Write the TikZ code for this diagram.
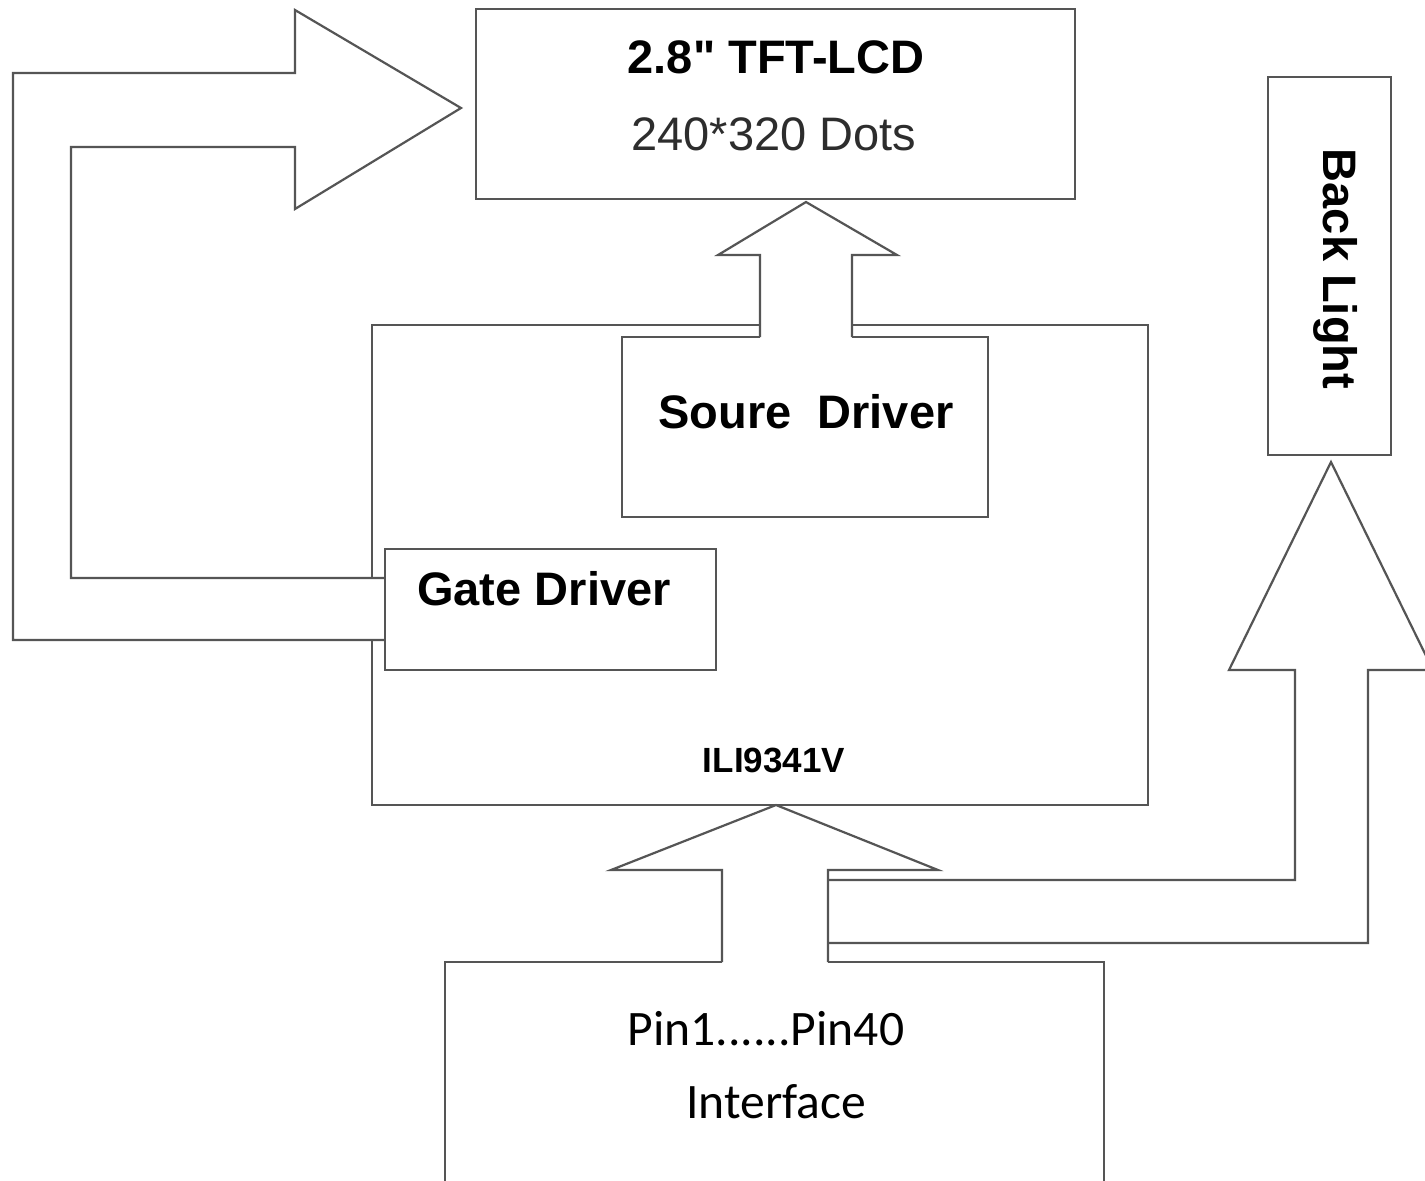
\documentclass[tikz,border=0pt]{standalone}
\usepackage{fontspec}
\setmainfont{Liberation Sans}
\newfontfamily\calfont{Carlito}
\usetikzlibrary{fit}
\definecolor{linec}{RGB}{85,85,85}
\definecolor{txtgray}{RGB}{45,45,45}
\begin{document}
\begin{tikzpicture}[x=0.5pt,y=-0.5pt,
  edge/.style={draw=linec,line width=1.1pt,line join=miter},
  box/.style={edge,inner sep=0pt,outer sep=0pt},
  hidden/.style={inner sep=0pt,outer sep=0pt},
  boldlbl/.style={font=\fontsize{23.5}{28}\selectfont\bfseries,anchor=base,inner sep=0pt},
  reglbl/.style={font=\fontsize{23.5}{28}\selectfont,anchor=base,inner sep=0pt},
  callbl/.style={font=\calfont\fontsize{24.8}{30}\selectfont,anchor=base,inner sep=0pt}]
\useasboundingbox (0,0) rectangle (1425,1180);
\clip (0,0) rectangle (1425,1180);
\fill[white] (0,0) rectangle (1425,1180);

% boxes
\node[box,fit={(476,9) (1075,199)}] (lcd) {};
\node[hidden,fit={(372,325) (1148,805)}] (ili) {};
\node[hidden,fit={(622,337) (988,517)}] (src) {};
\node[box,fit={(385,549) (716,670)}] (gate) {};
\node[box,fit={(1268,77) (1391,455)}] (bl) {};
\node[hidden,fit={(445,962) (1104,1200)}] (intf) {};

% ILI outline with openings
\draw[edge] (ili.west |- 0,578) -- (ili.north west) -- (760,325);
\draw[edge] (852,325) -- (ili.north east) -- (ili.south east) -- (ili.south west) -- (ili.west |- 0,640);
% Source driver outline with opening
\draw[edge] (760,337) -- (src.north west) -- (src.south west) -- (src.south east) -- (src.north east) -- (852,337);
% Interface outline with opening
\draw[edge] (722,962) -- (intf.north west) -- (intf.south west);
\draw[edge] (828,962) -- (intf.north east) -- (intf.south east);

% block arrows
\coordinate (gtip) at (461,108);
\coordinate (stip) at (806,202);
\coordinate (itip) at (776,805);
\coordinate (btip) at (1331,462);
\draw[edge] (gate.west |- 0,640) -- (13,640) -- (13,73) -- (295,73) -- (295,10) -- (gtip)
  -- (295,209) -- (295,147) -- (71,147) -- (71,578) -- (gate.west |- 0,578);
\draw[edge] (760,337) -- (760,255) -- (718,255) -- (stip) -- (897,255) -- (852,255) -- (852,337);
\draw[edge] (722,962) -- (722,870) -- (611,870) -- (itip) -- (938,870) -- (828,870) -- (828,962);
\draw[edge] (828,880) -- (1295,880) -- (1295,670) -- (1229,670) -- (btip) -- (1433,670)
  -- (1368,670) -- (1368,943) -- (828,943);

% labels
\node[boldlbl] (t1) at (776,73) {2.8\textquotedbl\ TFT-LCD};
\node[reglbl,text=txtgray] (t2) at (774,150) {240*320 Dots};
\node[boldlbl] (t3) at (806,428) {Soure\ \ Driver};
\node[boldlbl] (t4) at (544,605) {Gate Driver};
\node[font=\fontsize{17.5}{21}\selectfont\bfseries,anchor=base,inner sep=0pt] (t5) at (774,772) {ILI9341V};
\node[callbl] (t6) at (766,1045) {Pin1......Pin40};
\node[callbl] (t7) at (776,1118) {Interface};
\node[boldlbl,rotate=-90] (t8) at (1323,269) {Back Light};
\end{tikzpicture}
\end{document}
